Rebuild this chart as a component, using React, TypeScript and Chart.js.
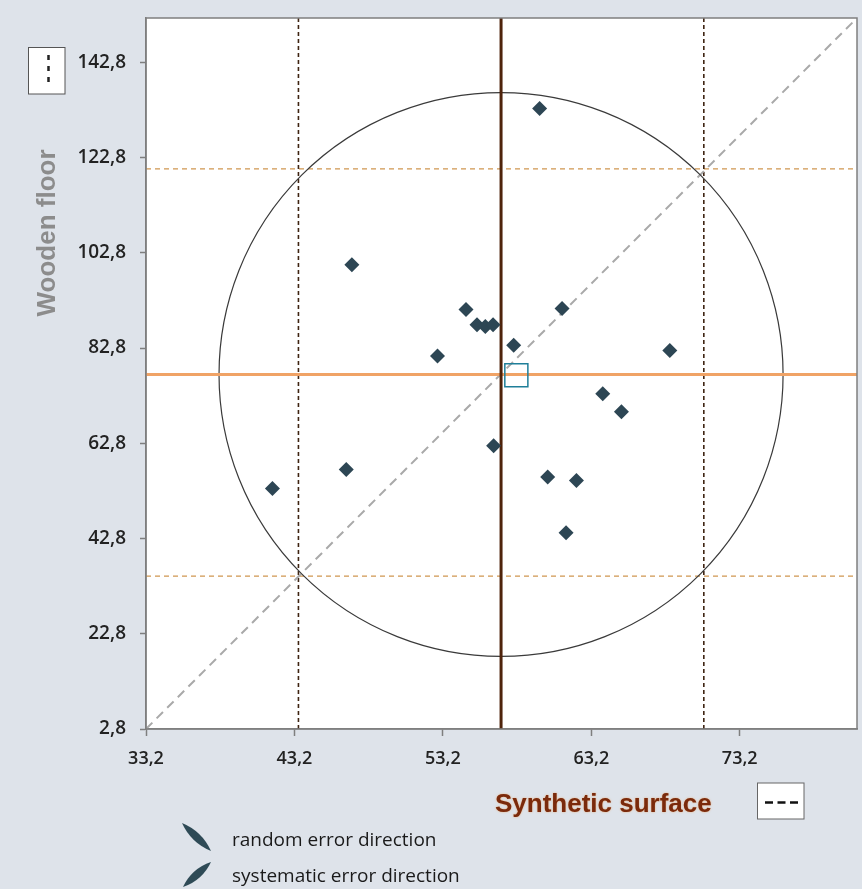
import { useEffect, useRef } from "react";
import { Chart, registerables } from "chart.js";
Chart.register(...registerables);

// Axis ranges and tick labels
const xRange = [33.2, 81.1];
const yRange = [2.8, 152.1];
const xTickValues = [33.2, 43.2, 53.2, 63.2, 73.2];
const yTickValues = [2.8, 22.8, 42.8, 62.8, 82.8, 102.8, 122.8, 142.8];

// Laboratory results (x: synthetic surface, y: wooden floor)
const syntheticSurface = [59.72, 47.07, 54.76, 55.5, 56.06, 56.58, 61.23, 57.97, 52.84, 68.49, 63.97, 65.23, 56.62, 46.69, 41.72, 60.26, 62.2, 61.5];
const woodenFloor = [133.1, 100.3, 90.9, 87.7, 87.3, 87.7, 91.1, 83.4, 81.1, 82.3, 73.2, 69.4, 62.3, 57.3, 53.3, 55.7, 55.0, 44.0];

// Reference values
const medianX = 57.12;
const medianY = 77.23;
const meanX = [58.15];
const meanY = [77.1];
const limitX = [43.47, 70.78];
const limitY = [34.9, 120.4];
const circleRadiusX = 19.0;
const circleRadiusY = 59.2;

const xLabel = "Synthetic surface";
const yLabel = "Wooden floor";
const legendLabels = ["random error direction", "systematic error direction"];

const fmt = (v: number) => v.toFixed(1).replace(".", ",");

const youdenPlugin = {
  id: "youden",
  beforeDraw(chart: any) {
    const { ctx, chartArea: a, width, height } = chart;
    ctx.save();
    ctx.fillStyle = "#dee3ea";
    ctx.fillRect(0, 0, width, height);
    ctx.fillStyle = "#ffffff";
    ctx.fillRect(a.left, a.top, a.right - a.left, a.bottom - a.top);
    ctx.restore();
  },
  beforeDatasetsDraw(chart: any) {
    const { ctx, chartArea: a, scales } = chart;
    const x = scales.x;
    const y = scales.y;
    ctx.save();
    ctx.beginPath();
    ctx.rect(a.left, a.top, a.right - a.left, a.bottom - a.top);
    ctx.clip();

    // horizontal limit lines
    ctx.strokeStyle = "#d09650";
    ctx.lineWidth = 1.2;
    ctx.setLineDash([5, 4]);
    for (const v of limitY) {
      const py = y.getPixelForValue(v);
      ctx.beginPath();
      ctx.moveTo(a.left, py);
      ctx.lineTo(a.right, py);
      ctx.stroke();
    }
    // vertical limit lines
    ctx.strokeStyle = "#3e2412";
    ctx.lineWidth = 1.6;
    ctx.setLineDash([4, 3]);
    for (const v of limitX) {
      const px = x.getPixelForValue(v);
      ctx.beginPath();
      ctx.moveTo(px, a.top);
      ctx.lineTo(px, a.bottom);
      ctx.stroke();
    }
    // diagonal
    ctx.strokeStyle = "#a9a9a9";
    ctx.lineWidth = 2;
    ctx.setLineDash([9, 6]);
    ctx.beginPath();
    ctx.moveTo(x.getPixelForValue(xRange[0]), y.getPixelForValue(yRange[0]));
    ctx.lineTo(x.getPixelForValue(xRange[1]), y.getPixelForValue(yRange[1]));
    ctx.stroke();
    // circle
    const cx = x.getPixelForValue(medianX);
    const cy = y.getPixelForValue(medianY);
    const rx = x.getPixelForValue(medianX + circleRadiusX) - cx;
    const ry = cy - y.getPixelForValue(medianY + circleRadiusY);
    ctx.setLineDash([]);
    ctx.strokeStyle = "#3a3a3a";
    ctx.lineWidth = 1.2;
    ctx.beginPath();
    ctx.ellipse(cx, cy, rx, ry, 0, 0, Math.PI * 2);
    ctx.stroke();
    // median lines
    ctx.strokeStyle = "#f0a366";
    ctx.lineWidth = 3;
    ctx.beginPath();
    ctx.moveTo(a.left, cy);
    ctx.lineTo(a.right, cy);
    ctx.stroke();
    ctx.strokeStyle = "#4e230b";
    ctx.lineWidth = 3;
    ctx.beginPath();
    ctx.moveTo(cx, a.top);
    ctx.lineTo(cx, a.bottom);
    ctx.stroke();
    ctx.restore();
  },
  afterDraw(chart: any) {
    const { ctx, chartArea: a } = chart;
    ctx.save();
    // plot border
    ctx.strokeStyle = "#7f7f7f";
    ctx.lineWidth = 1.5;
    ctx.strokeRect(a.left, a.top, a.right - a.left, a.bottom - a.top);

    // y axis title
    ctx.save();
    ctx.translate(55, 233);
    ctx.rotate(-Math.PI / 2);
    ctx.fillStyle = "#8c8c8c";
    ctx.font = 'bold 26px "Liberation Sans", Arial, sans-serif';
    ctx.textAlign = "center";
    ctx.textBaseline = "alphabetic";
    ctx.fillText(yLabel, 0, 0);
    ctx.restore();

    // x axis title
    ctx.save();
    ctx.fillStyle = "#7a2a0c";
    ctx.shadowColor = "rgba(240,150,70,0.7)";
    ctx.shadowBlur = 2;
    ctx.font = 'bold 26px "Liberation Sans", Arial, sans-serif';
    ctx.textAlign = "left";
    ctx.textBaseline = "alphabetic";
    ctx.fillText(xLabel, 495, 812);
    ctx.restore();

    // top-left box (vertical dotted)
    ctx.fillStyle = "#ffffff";
    ctx.fillRect(28.5, 47.5, 36.5, 46.5);
    ctx.strokeStyle = "#555";
    ctx.lineWidth = 1;
    ctx.strokeRect(28.5, 47.5, 36.5, 46.5);
    ctx.strokeStyle = "#222";
    ctx.lineWidth = 2.5;
    ctx.setLineDash([5, 6]);
    ctx.beginPath();
    ctx.moveTo(48.5, 55);
    ctx.lineTo(48.5, 87);
    ctx.stroke();
    ctx.setLineDash([]);

    // bottom-right box (horizontal dashed)
    ctx.fillStyle = "#ffffff";
    ctx.fillRect(757.5, 783, 46.5, 36);
    ctx.strokeStyle = "#666";
    ctx.lineWidth = 1;
    ctx.strokeRect(757.5, 783, 46.5, 36);
    ctx.strokeStyle = "#111";
    ctx.lineWidth = 2.5;
    ctx.setLineDash([8, 4.5]);
    ctx.beginPath();
    ctx.moveTo(765, 802.5);
    ctx.lineTo(798, 802.5);
    ctx.stroke();
    ctx.setLineDash([]);

    // legend leaves
    const leaf = (x1: number, y1: number, x2: number, y2: number, w: number) => {
      const mx = (x1 + x2) / 2;
      const my = (y1 + y2) / 2;
      const dx = x2 - x1;
      const dy = y2 - y1;
      const len = Math.hypot(dx, dy);
      const nx = -dy / len;
      const ny = dx / len;
      ctx.beginPath();
      ctx.moveTo(x1, y1);
      ctx.quadraticCurveTo(mx + nx * w, my + ny * w, x2, y2);
      ctx.quadraticCurveTo(mx - nx * w, my - ny * w, x1, y1);
      ctx.closePath();
      ctx.fill();
    };
    ctx.fillStyle = "#2e4a56";
    leaf(182, 823, 211, 851, 8);
    leaf(211, 862, 183, 887, 8);

    ctx.fillStyle = "#1a1a1a";
    ctx.font = '19px "Open Sans", sans-serif';
    ctx.textAlign = "left";
    ctx.textBaseline = "middle";
    ctx.fillText(legendLabels[0], 232, 841);
    ctx.fillText(legendLabels[1], 232, 877);
    ctx.restore();
  },
};

const zeroPad = (s: any) => {
  s.paddingTop = 0;
  s.paddingBottom = 0;
  s.paddingLeft = 0;
  s.paddingRight = 0;
};

export default function App() {
  const ref = useRef<HTMLCanvasElement | null>(null);
  useEffect(() => {
    document.body.style.margin = "0";
    if (!ref.current) return;
    const points = syntheticSurface.map((v, i) => ({ x: v, y: woodenFloor[i] }));
    const mean = meanX.map((v, i) => ({ x: v, y: meanY[i] }));
    const tickFont = { family: '"Open Sans", sans-serif', size: 18, weight: 600 as any };
    const chart = new Chart(ref.current, {
      type: "scatter",
      data: {
        datasets: [
          {
            label: "mean",
            data: mean,
            pointStyle: "rect",
            pointRadius: 16.3,
            backgroundColor: "rgba(0,0,0,0)",
            borderColor: "#1f7f99",
            borderWidth: 1.5,
          },
          {
            label: "labs",
            data: points,
            pointStyle: "rectRot",
            pointRadius: 7.5,
            backgroundColor: "#2d4654",
            borderWidth: 0,
          },
        ],
      },
      options: {
        animation: false,
        responsive: false,
        layout: { autoPadding: false, padding: { left: 0, right: 5, top: 18, bottom: 120 } },
        plugins: { legend: { display: false }, tooltip: { enabled: false } },
        scales: {
          x: {
            type: "linear",
            min: xRange[0],
            max: xRange[1],
            afterBuildTicks: (s: any) => {
              s.ticks = xTickValues.map((v) => ({ value: v }));
            },
            afterFit: (s: any) => {
              s.height = 40;
              zeroPad(s);
            },
            ticks: {
              callback: (v: any) => fmt(Number(v)),
              color: "#222",
              font: tickFont,
              padding: 12,
              maxRotation: 0,
              autoSkip: false,
            },
            grid: { drawOnChartArea: false, drawTicks: true, tickLength: 7, color: "#7f7f7f", tickWidth: 1.5 },
            border: { display: true, color: "#7f7f7f", width: 1.5 },
          },
          y: {
            type: "linear",
            min: yRange[0],
            max: yRange[1],
            afterBuildTicks: (s: any) => {
              s.ticks = yTickValues.map((v) => ({ value: v }));
            },
            afterFit: (s: any) => {
              s.width = 146;
              zeroPad(s);
            },
            ticks: {
              callback: (v: any) => fmt(Number(v)),
              color: "#222",
              font: { family: '"Open Sans", sans-serif', size: 19, weight: 600 as any },
              padding: 14,
              autoSkip: false,
            },
            grid: { drawOnChartArea: false, drawTicks: true, tickLength: 6, color: "#7f7f7f", tickWidth: 1.5 },
            border: { display: true, color: "#7f7f7f", width: 1.5 },
          },
        },
      },
      plugins: [youdenPlugin],
    });
    return () => chart.destroy();
  }, []);
  return (
    <div style={{ position: "absolute", left: 0, top: 0, width: 862, height: 889, background: "#dee3ea" }}>
      <canvas ref={ref} width={862} height={889} />
    </div>
  );
}
